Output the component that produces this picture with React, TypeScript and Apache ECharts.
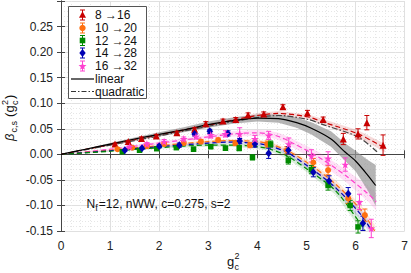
import React, { useEffect, useRef } from "react";
import * as echarts from "echarts";

// ---------- data points (g^2, beta, error) ----------
const redX = [1.10, 1.37, 1.64, 1.94, 2.36, 2.72, 2.95, 3.30, 3.56, 3.81, 4.13, 4.52, 5.02, 5.34, 5.75, 6.05, 6.23, 6.56];
const redY = [0.020, 0.025, 0.031, 0.036, 0.042, 0.049, 0.060, 0.065, 0.068, 0.077, 0.079, 0.093, 0.081, 0.068, 0.030, 0.040, 0.062, 0.018];
const redE = [0.002, 0.002, 0.003, 0.003, 0.003, 0.003, 0.004, 0.004, 0.004, 0.004, 0.004, 0.004, 0.005, 0.005, 0.011, 0.010, 0.014, 0.020];

const orX = [1.15, 1.45, 1.75, 2.10, 2.50, 2.85, 3.20, 3.55, 3.85, 4.20, 4.60, 5.14, 5.44, 5.85, 6.19];
const orY = [0.010, 0.013, 0.016, 0.020, 0.022, 0.025, 0.028, 0.022, 0.018, 0.020, 0.008, -0.016, -0.031, -0.086, -0.119];
const orE = [0.002, 0.002, 0.003, 0.003, 0.003, 0.004, 0.004, 0.005, 0.005, 0.006, 0.007, 0.008, 0.009, 0.010, 0.012];

const grX = [1.25, 1.60, 1.95, 2.35, 2.70, 3.05, 3.35, 3.63, 3.90, 4.27, 4.63, 5.10, 5.44, 5.89, 6.05];
const grY = [0.005, 0.008, 0.011, 0.013, 0.010, 0.015, 0.012, 0.012, -0.006, 0.020, -0.012, -0.030, -0.061, -0.100, -0.142];
const grE = [0.002, 0.002, 0.003, 0.003, 0.004, 0.004, 0.004, 0.005, 0.005, 0.006, 0.007, 0.008, 0.009, 0.010, 0.012];

const blX = [1.30, 1.65, 2.00, 2.41, 2.72, 3.03, 3.40, 3.64, 3.95, 4.23, 4.63, 5.14, 5.46, 5.85, 6.15];
const blY = [0.008, 0.012, 0.016, 0.018, 0.040, 0.045, 0.041, 0.026, 0.020, 0.002, 0.008, -0.035, -0.052, -0.077, -0.135];
const blE = [0.002, 0.002, 0.003, 0.004, 0.004, 0.004, 0.005, 0.005, 0.006, 0.010, 0.007, 0.009, 0.010, 0.012, 0.014];

const mgX = [1.40, 1.75, 2.10, 2.50, 2.75, 3.05, 3.35, 3.64, 3.95, 4.23, 4.64, 5.10, 5.44, 5.79, 6.08, 6.32];
const mgY = [0.015, 0.020, 0.025, 0.030, 0.035, 0.038, 0.040, 0.040, 0.030, 0.037, 0.020, -0.003, -0.008, -0.020, -0.093, -0.145];
const mgE = [0.003, 0.003, 0.004, 0.004, 0.005, 0.006, 0.006, 0.012, 0.007, 0.008, 0.012, 0.012, 0.013, 0.013, 0.015, 0.018];

// ---------- fit curves (g^2, beta, band half-width) ----------
const linX = [0, 0.5, 1, 1.5, 2, 2.5, 3, 3.5, 4, 4.43, 4.8, 5.1, 5.5, 5.78, 6.0, 6.25, 6.41];
const linY = [0, 0.010, 0.020, 0.030, 0.039, 0.048, 0.058, 0.066, 0.071, 0.070, 0.062, 0.051, 0.030, 0.005, -0.013, -0.041, -0.061];
const linE = [0, 0.001, 0.002, 0.003, 0.004, 0.005, 0.006, 0.006, 0.007, 0.008, 0.010, 0.012, 0.015, 0.017, 0.020, 0.030, 0.040];

const quadX = [0, 1, 2, 3, 3.5, 4, 4.43, 5.04, 5.34, 6.05, 6.45];
const quadY = [0, 0.018, 0.036, 0.055, 0.064, 0.072, 0.076, 0.068, 0.058, 0.034, 0.004];

const redFitX = [0, 1, 2, 3, 3.5, 4, 4.43, 5.04, 5.34, 6.05, 6.6];
const redFitY = [0, 0.019, 0.038, 0.057, 0.067, 0.076, 0.080, 0.073, 0.063, 0.040, 0.012];
const redFitE = [0, 0.002, 0.003, 0.004, 0.004, 0.005, 0.005, 0.005, 0.006, 0.007, 0.008];

const orFitX = [0, 1, 2, 3, 3.5, 4, 4.23, 4.6, 5.04, 5.58, 6.11, 6.39];
const orFitY = [0, 0.008, 0.017, 0.025, 0.027, 0.025, 0.021, 0.008, -0.018, -0.057, -0.109, -0.15];
const orFitE = [0, 0.001, 0.002, 0.003, 0.003, 0.004, 0.004, 0.005, 0.006, 0.008, 0.010, 0.012];

const blFitX = [0, 1, 2, 3, 3.5, 4, 4.23, 4.6, 5.04, 5.58, 6.11, 6.33];
const blFitY = [0, 0.007, 0.015, 0.022, 0.024, 0.021, 0.017, 0.004, -0.024, -0.064, -0.118, -0.15];
const blFitE = [0, 0.001, 0.002, 0.003, 0.003, 0.004, 0.004, 0.005, 0.006, 0.008, 0.010, 0.012];

const grFitX = [0, 1, 2, 3, 3.5, 4, 4.23, 4.6, 5.04, 5.58, 6.05, 6.19];
const grFitY = [0, 0.006, 0.013, 0.018, 0.018, 0.015, 0.011, -0.003, -0.031, -0.070, -0.129, -0.15];
const grFitE = [0, 0.001, 0.002, 0.003, 0.003, 0.004, 0.004, 0.005, 0.006, 0.008, 0.010, 0.012];

const mgFitX = [0, 1, 2, 3, 3.5, 4, 4.23, 4.43, 4.64, 5.24, 5.79, 6.25, 6.42];
const mgFitY = [0, 0.010, 0.022, 0.034, 0.040, 0.042, 0.040, 0.035, 0.026, -0.005, -0.041, -0.077, -0.093];
const mgFitE = [0, 0.002, 0.003, 0.004, 0.005, 0.006, 0.006, 0.007, 0.008, 0.010, 0.012, 0.015, 0.017];

const legendLabels = ["8 \u219216", "10 \u219220", "12 \u219224", "14 \u219228", "16 \u219232", "linear", "quadratic"];

const C_RED = "#c80000";
const C_OR = "#ff7010";
const C_GR = "#008a00";
const C_BL = "#0000b4";
const C_MG = "#ff40d0";

const STAR = "path://M50,0 L61,35 L98,35 L68,57 L79,91 L50,70 L21,91 L32,57 L2,35 L39,35 Z";

function zip(xs: number[], ys: number[]) {
  return xs.map((x, i) => [x, ys[i]]);
}
function zip3(xs: number[], ys: number[], es: number[]) {
  return xs.map((x, i) => [x, ys[i], es[i]]);
}

function bandSeries(xs: number[], ys: number[], es: number[], fill: string, z: number) {
  const rows = xs.map((x, i) => [x, ys[i] - es[i], ys[i] + es[i]]);
  return {
    type: "custom",
    clip: true,
    z,
    silent: true,
    data: rows,
    encode: { x: 0, y: [1, 2] },
    renderItem: (params: any, api: any) => {
      if (params.dataIndex !== 0) return null;
      const pts: number[][] = [];
      rows.forEach((r) => pts.push(api.coord([r[0], r[2]])));
      for (let i = rows.length - 1; i >= 0; i--) pts.push(api.coord([rows[i][0], rows[i][1]]));
      return { type: "polygon", shape: { points: pts }, style: { fill, stroke: null } };
    },
  };
}

function lineSeries(xs: number[], ys: number[], color: string, type: any, width: number, z: number) {
  return {
    type: "line",
    data: zip(xs, ys),
    showSymbol: false,
    smooth: 0.3,
    z,
    silent: true,
    lineStyle: { color, width, type },
  };
}

function errSeries(xs: number[], ys: number[], es: number[], color: string) {
  return {
    type: "custom",
    z: 6,
    silent: true,
    data: zip3(xs, ys, es),
    encode: { x: 0, y: 1 },
    renderItem: (params: any, api: any) => {
      const x = api.value(0), y = api.value(1), e = api.value(2);
      const lo = api.coord([x, y - e]);
      const hi = api.coord([x, y + e]);
      const cw = 2.5;
      const st = { stroke: color, lineWidth: 1 };
      return {
        type: "group",
        children: [
          { type: "line", shape: { x1: lo[0], y1: lo[1], x2: hi[0], y2: hi[1] }, style: st },
          { type: "line", shape: { x1: lo[0] - cw, y1: lo[1], x2: lo[0] + cw, y2: lo[1] }, style: st },
          { type: "line", shape: { x1: hi[0] - cw, y1: hi[1], x2: hi[0] + cw, y2: hi[1] }, style: st },
        ],
      };
    },
  };
}

function scatterSeries(xs: number[], ys: number[], color: string, symbol: string, size: any) {
  return {
    type: "scatter",
    data: zip(xs, ys),
    symbol,
    symbolSize: size,
    z: 7,
    silent: true,
    itemStyle: { color, opacity: 1 },
  };
}

function starPoints(cx: number, cy: number, r: number) {
  const pts: number[][] = [];
  for (let i = 0; i < 10; i++) {
    const a = -Math.PI / 2 + (i * Math.PI) / 5;
    const rr = i % 2 === 0 ? r : r * 0.42;
    pts.push([cx + rr * Math.cos(a), cy + rr * Math.sin(a)]);
  }
  return pts;
}

function legendGraphic() {
  const FONT = "Liberation Sans, Arial, sans-serif";
  const rowsY = [15, 28, 40.5, 53, 66, 79, 91.5];
  const mx = 82.5;
  const els: any[] = [
    { type: "rect", shape: { x: 68.5, y: 6.5, width: 78, height: 92 }, style: { fill: "#fff", stroke: "#555", lineWidth: 1 }, z: 20 },
  ];
  const colors = [C_RED, C_OR, C_GR, C_BL, C_MG];
  colors.forEach((c, i) => {
    const y = rowsY[i];
    const st = { stroke: c, lineWidth: 1 };
    els.push({ type: "line", shape: { x1: mx, y1: y - 5, x2: mx, y2: y + 5 }, style: st, z: 21 });
    els.push({ type: "line", shape: { x1: mx - 2.5, y1: y - 5, x2: mx + 2.5, y2: y - 5 }, style: st, z: 21 });
    els.push({ type: "line", shape: { x1: mx - 2.5, y1: y + 5, x2: mx + 2.5, y2: y + 5 }, style: st, z: 21 });
  });
  els.push({ type: "polygon", shape: { points: [[mx, rowsY[0] - 3.8], [mx + 3.5, rowsY[0] + 2.8], [mx - 3.5, rowsY[0] + 2.8]] }, style: { fill: C_RED }, z: 22 });
  els.push({ type: "circle", shape: { cx: mx, cy: rowsY[1], r: 3.2 }, style: { fill: C_OR }, z: 22 });
  els.push({ type: "rect", shape: { x: mx - 2.8, y: rowsY[2] - 2.8, width: 5.6, height: 5.6 }, style: { fill: C_GR }, z: 22 });
  els.push({ type: "polygon", shape: { points: [[mx, rowsY[3] - 4], [mx + 3.2, rowsY[3]], [mx, rowsY[3] + 4], [mx - 3.2, rowsY[3]]] }, style: { fill: C_BL }, z: 22 });
  els.push({ type: "polygon", shape: { points: starPoints(mx, rowsY[4] + 0.4, 4.2) }, style: { fill: C_MG }, z: 22 });
  els.push({ type: "line", shape: { x1: 71, y1: rowsY[5], x2: 94, y2: rowsY[5] }, style: { stroke: "#000", lineWidth: 1.2 }, z: 21 });
  els.push({ type: "line", shape: { x1: 71, y1: rowsY[6], x2: 94, y2: rowsY[6] }, style: { stroke: "#333", lineWidth: 1.2, lineDash: [5, 2, 1.5, 2] }, z: 21 });
  legendLabels.forEach((t, i) => {
    els.push({ type: "text", x: 95, y: rowsY[i], style: { text: t, fontSize: 12, fontFamily: FONT, fill: "#111", verticalAlign: "middle", align: "left" }, z: 22 });
  });
  return els;
}

function textGraphic() {
  const FONT = "Liberation Sans, Arial, sans-serif";
  const els: any[] = [];
  // annotation
  els.push({ type: "text", x: 86.5, y: 204, style: { text: "N", fontSize: 12, fontFamily: FONT, fill: "#111", verticalAlign: "middle" }, z: 22 });
  els.push({ type: "text", x: 95.2, y: 208, style: { text: "f", fontSize: 9, fontFamily: FONT, fill: "#111", verticalAlign: "middle" }, z: 22 });
  els.push({ type: "text", x: 98.8, y: 204, style: { text: "=12, nWW, c=0.275, s=2", fontSize: 12, fontFamily: FONT, fill: "#111", verticalAlign: "middle" }, z: 22 });
  // x axis name
  els.push({ type: "text", x: 227, y: 261, style: { text: "g", fontSize: 13, fontFamily: FONT, fill: "#111", verticalAlign: "middle" }, z: 22 });
  els.push({ type: "text", x: 234.5, y: 255.5, style: { text: "2", fontSize: 9, fontFamily: FONT, fill: "#111", verticalAlign: "middle" }, z: 22 });
  els.push({ type: "text", x: 234.5, y: 267, style: { text: "c", fontSize: 9, fontFamily: FONT, fill: "#111", verticalAlign: "middle" }, z: 22 });
  // y axis name (rotated)
  const st = (t: string, fs: number, italic?: boolean) => ({ text: t, fontSize: fs, fontFamily: FONT, fill: "#111", verticalAlign: "middle", fontStyle: italic ? "italic" : "normal" });
  els.push({
    type: "group",
    x: 0,
    y: 141,
    rotation: Math.PI / 2,
    children: [
      { type: "text", x: 0, y: 9.5, style: st("\u03b2", 13, true) },
      { type: "text", x: 8.5, y: 13.5, style: st("c,s", 9) },
      { type: "text", x: 24, y: 9.5, style: st("(", 13) },
      { type: "text", x: 28.5, y: 9.5, style: st("g", 13) },
      { type: "text", x: 36, y: 4.5, style: st("2", 9) },
      { type: "text", x: 36, y: 14.5, style: st("c", 9) },
      { type: "text", x: 42, y: 9.5, style: st(")", 13) },
    ],
    z: 22,
  });
  return els;
}

export default function App() {
  const ref = useRef<HTMLDivElement>(null);
  useEffect(() => {
    if (!ref.current) return;
    const chart = echarts.init(ref.current, undefined, { renderer: "svg" });
    const axisLine = { show: true, lineStyle: { color: "#444", width: 1 } };
    const tick = { show: true, inside: true, length: 4, lineStyle: { color: "#444" } };
    const fmtY = (v: number) => (v > 0.29 ? "" : Math.abs(v) < 1e-9 ? "0.00" : v.toFixed(2));
    const option: any = {
      animation: false,
      backgroundColor: "#fff",
      grid: { left: 61, top: 1, width: 346, height: 230, containLabel: false },
      textStyle: { fontFamily: "Liberation Sans, Arial, sans-serif" },
      xAxis: [
        {
          type: "value", min: 0, max: 7, interval: 1, position: "bottom",
          axisLine, axisTick: tick,
          axisLabel: { fontSize: 12, color: "#222", margin: 9 },
          splitLine: { show: true, lineStyle: { color: "#e0e0e0", width: 1 } },
          minorTick: { show: false, splitNumber: 5 },
          minorSplitLine: { show: true, lineStyle: { color: "#e6e6e6", type: [1, 2], width: 1 } },
        },
        {
          type: "value", min: 0, max: 7, interval: 1, position: "top",
          axisLine, axisTick: tick, axisLabel: { show: false }, splitLine: { show: false },
        },
      ],
      yAxis: [
        {
          type: "value", min: -0.15, max: 0.3, interval: 0.05, position: "left",
          axisLine, axisTick: tick,
          axisLabel: { fontSize: 12, color: "#222", margin: 8, formatter: fmtY },
          splitLine: { show: true, lineStyle: { color: "#e0e0e0", width: 1 } },
          minorTick: { show: false, splitNumber: 5 },
          minorSplitLine: { show: true, lineStyle: { color: "#e6e6e6", type: [1, 2], width: 1 } },
        },
        {
          type: "value", min: -0.15, max: 0.3, interval: 0.05, position: "right",
          axisLine, axisTick: tick, axisLabel: { show: false }, splitLine: { show: false },
        },
      ],
      series: [
        bandSeries(mgFitX, mgFitY, mgFitE, "rgba(255,64,208,0.16)", 1),
        bandSeries(orFitX, orFitY, orFitE, "rgba(255,112,16,0.16)", 1),
        bandSeries(blFitX, blFitY, blFitE, "rgba(0,0,180,0.12)", 1),
        bandSeries(grFitX, grFitY, grFitE, "rgba(0,138,0,0.14)", 1),
        bandSeries(redFitX, redFitY, redFitE, "rgba(200,0,0,0.14)", 1),
        bandSeries(linX, linY, linE, "rgba(150,150,150,0.7)", 2),
        lineSeries(mgFitX, mgFitY, C_MG, [5, 3], 1.2, 3),
        lineSeries(orFitX, orFitY, C_OR, [5, 3], 1.2, 3),
        lineSeries(blFitX, blFitY, C_BL, [5, 3], 1.2, 3),
        lineSeries(grFitX, grFitY, C_GR, [5, 3], 1.2, 3),
        lineSeries(redFitX, redFitY, C_RED, [5, 3], 1.2, 3),
        lineSeries(quadX, quadY, "#444", [6, 2, 1.5, 2], 1.2, 4),
        lineSeries(linX, linY, "#000", "solid", 1.2, 4),
        errSeries(redX, redY, redE, C_RED),
        errSeries(orX, orY, orE, C_OR),
        errSeries(grX, grY, grE, C_GR),
        errSeries(blX, blY, blE, C_BL),
        errSeries(mgX, mgY, mgE, C_MG),
        scatterSeries(redX, redY, C_RED, "triangle", 7),
        scatterSeries(orX, orY, C_OR, "circle", 6),
        scatterSeries(grX, grY, C_GR, "rect", 5.5),
        scatterSeries(blX, blY, C_BL, "diamond", [6.5, 8]),
        scatterSeries(mgX, mgY, C_MG, STAR, 8),
      ],
      graphic: [...legendGraphic(), ...textGraphic()],
    };
    chart.setOption(option);
    return () => chart.dispose();
  }, []);
  return <div ref={ref} style={{ position: "absolute", left: 0, top: 0, width: 411, height: 273 }} />;
}
